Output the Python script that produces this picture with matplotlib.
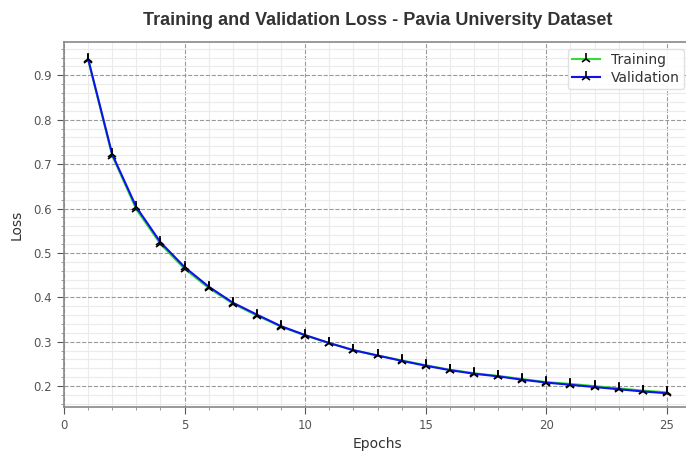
import matplotlib
matplotlib.use("Agg")
import matplotlib.pyplot as plt
from matplotlib.ticker import MultipleLocator

epochs = list(range(1, 26))
train_loss = [0.935, 0.719, 0.598, 0.520, 0.464, 0.421, 0.386, 0.359, 0.334,
              0.314, 0.297, 0.281, 0.269, 0.258, 0.247, 0.237, 0.229, 0.223,
              0.216, 0.209, 0.205, 0.200, 0.195, 0.190, 0.186]
val_loss = [0.937, 0.722, 0.603, 0.524, 0.468, 0.424, 0.388, 0.361, 0.335,
            0.315, 0.297, 0.281, 0.269, 0.257, 0.246, 0.236, 0.228, 0.222,
            0.2145, 0.208, 0.203, 0.198, 0.193, 0.188, 0.184]

fig = plt.figure(figsize=(6.86, 4.55), dpi=100)
ax = fig.add_axes([64/686, 48/455, 627/686, 365/455])

ax.plot(epochs, train_loss, color='#33dd33', lw=1.5, marker='2', ms=8,
        mec='black', mew=1.2, label='Training')
ax.plot(epochs, val_loss, color='#1111ee', lw=1.5, marker='2', ms=8,
        mec='black', mew=1.2, label='Validation')

ax.set_xlim(0, 26)
ax.set_ylim(0.153, 0.975)
ax.xaxis.set_major_locator(MultipleLocator(5))
ax.xaxis.set_minor_locator(MultipleLocator(1))
ax.yaxis.set_major_locator(MultipleLocator(0.1))
ax.yaxis.set_minor_locator(MultipleLocator(0.02))

ax.grid(which='major', linestyle='--', color='#999999', lw=0.8)
ax.grid(which='minor', linestyle='-', color='#ebebeb', lw=0.8)
ax.set_axisbelow(True)

for s in ax.spines.values():
    s.set_color('#888888')
    s.set_linewidth(1.2)
ax.tick_params(which='major', colors='#555555', labelsize=8.5, length=5)
ax.tick_params(which='minor', colors='#888888', length=2.5)

ax.set_xlabel('Epochs', fontsize=10, color='#333333', labelpad=4)
ax.set_ylabel('Loss', fontsize=10, color='#333333', labelpad=7)
ax.set_title('Training and Validation Loss - Pavia University Dataset',
             fontsize=13, fontweight='bold', family='Liberation Sans',
             color='#333333', pad=12)

leg = ax.legend(loc='upper right', fontsize=10, frameon=True, framealpha=0.9,
                edgecolor='#dddddd', borderaxespad=0.5, borderpad=0.3,
                labelspacing=0.3)
for t in leg.get_texts():
    t.set_color('#333333')

fig.savefig('out.png', dpi=100)
